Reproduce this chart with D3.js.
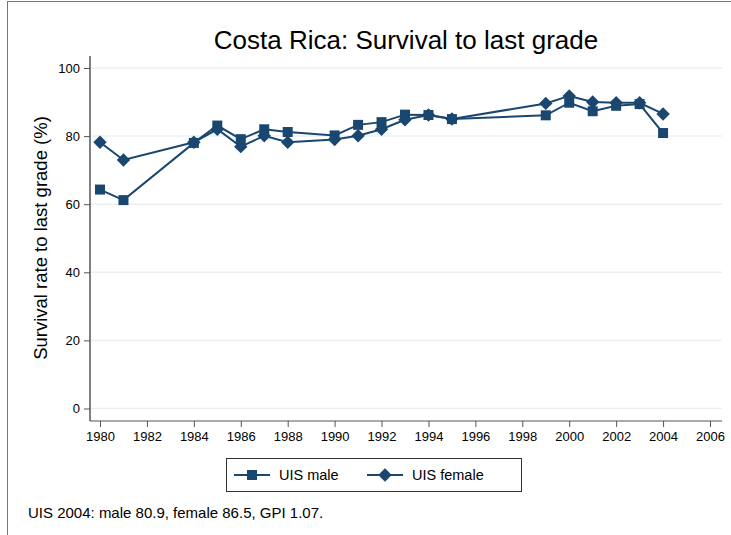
<!DOCTYPE html>
<html>
<head>
<meta charset="utf-8">
<script src="https://cdn.jsdelivr.net/npm/d3@7"></script>
<style>
  body { margin: 0; background: #fff; }
  svg { display: block; font-family: 'Liberation Sans', Arial, sans-serif; }
</style>
</head>
<body>
<div class="chart-container"></div>
<script>
// data
const maleYears = [1980, 1981, 1984, 1985, 1986, 1987, 1988, 1990, 1991, 1992, 1993, 1994, 1995, 1999, 2000, 2001, 2002, 2003, 2004];
const maleValues = [64.3, 61.2, 78, 83.1, 79.1, 82, 81.2, 80.2, 83.3, 84.1, 86.3, 86.2, 85, 86.1, 89.8, 87.3, 88.9, 89.4, 80.9];
const femaleYears = [1980, 1981, 1984, 1985, 1986, 1987, 1988, 1990, 1991, 1992, 1993, 1994, 1995, 1999, 2000, 2001, 2002, 2003, 2004];
const femaleValues = [78.2, 73, 78.2, 82, 76.9, 80.1, 78.2, 79, 80.1, 82, 84.8, 86.2, 85, 89.6, 91.8, 90, 89.8, 89.8, 86.5];
const xTicks = d3.range(1980, 2007, 2);
const yTicks = [0, 20, 40, 60, 80, 100];

const navy = '#1a476f';
const width = 731;
const height = 535;

const svg = d3.select('.chart-container')
    .append('svg')
    .attr('width', width)
    .attr('height', height);

// outer frame (only top and left edges show)
svg.append('rect')
    .attr('x', 7.5)
    .attr('y', 1.5)
    .attr('width', 900)
    .attr('height', 900)
    .attr('fill', 'none')
    .attr('stroke', '#777')
    .attr('stroke-width', 1);

// scales
const x = d3.scaleLinear().domain([1980, 2006]).range([100, 710]);
const y = d3.scaleLinear().domain([0, 100]).range([408.5, 68]);
const plotLeft = 90, plotRight = 722, plotTop = 56, plotBottom = 421;

// gridlines
svg.append('g')
    .selectAll('line')
    .data(yTicks)
    .enter().append('line')
    .attr('x1', plotLeft)
    .attr('x2', plotRight)
    .attr('y1', d => y(d))
    .attr('y2', d => y(d))
    .attr('stroke', '#eaf0f3')
    .attr('stroke-width', 1.5);

// y axis
const yAxis = svg.append('g')
    .attr('transform', `translate(${plotLeft}, 0)`)
    .call(d3.axisLeft(y).tickValues(yTicks).tickSize(6).tickPadding(4));
yAxis.select('.domain').attr('d', `M0,${plotTop}V${plotBottom}`).attr('stroke', '#000');
yAxis.selectAll('.tick line').attr('stroke', '#555');
yAxis.selectAll('text').style('font-size', '13px').attr('fill', '#000');

// x axis
const xAxis = svg.append('g')
    .attr('transform', `translate(0, ${plotBottom})`)
    .call(d3.axisBottom(x).tickValues(xTicks).tickFormat(d3.format('d')).tickSize(6).tickPadding(5));
xAxis.select('.domain').attr('d', `M${plotLeft},0H${plotRight}`).attr('stroke', '#555');
xAxis.selectAll('.tick line').attr('stroke', '#555');
xAxis.selectAll('text').style('font-size', '13px').attr('fill', '#000');

// lines
const male = maleYears.map((yr, i) => ({ year: yr, value: maleValues[i] }));
const female = femaleYears.map((yr, i) => ({ year: yr, value: femaleValues[i] }));

const line = d3.line()
    .x(d => x(d.year))
    .y(d => y(d.value));

[male, female].forEach(series => {
    svg.append('path')
        .datum(series)
        .attr('fill', 'none')
        .attr('stroke', navy)
        .attr('stroke-width', 2)
        .attr('d', line);
});

// markers
const squareSym = d3.symbol().type(d3.symbolSquare).size(100);
const diamondSym = d3.symbol().type(d3.symbolSquare).size(90);

svg.append('g')
    .selectAll('path')
    .data(male)
    .enter().append('path')
    .attr('d', squareSym)
    .attr('transform', d => `translate(${x(d.year)}, ${y(d.value)})`)
    .attr('fill', navy);

svg.append('g')
    .selectAll('path')
    .data(female)
    .enter().append('path')
    .attr('d', diamondSym)
    .attr('transform', d => `translate(${x(d.year)}, ${y(d.value)}) rotate(45)`)
    .attr('fill', navy);

// title
svg.append('text')
    .attr('x', 406)
    .attr('y', 49)
    .attr('text-anchor', 'middle')
    .style('font-size', '26px')
    .text('Costa Rica: Survival to last grade');

// y axis label
svg.append('text')
    .attr('transform', 'rotate(-90)')
    .attr('x', -238)
    .attr('y', 47)
    .attr('text-anchor', 'middle')
    .style('font-size', '18.5px')
    .text('Survival rate to last grade (%)');

// legend
const legend = svg.append('g');
legend.append('rect')
    .attr('x', 226.5)
    .attr('y', 458.5)
    .attr('width', 295)
    .attr('height', 33)
    .attr('fill', '#fff')
    .attr('stroke', '#333');

const legendItems = [
    { label: 'UIS male', x0: 234, sym: squareSym, rot: 0 },
    { label: 'UIS female', x0: 367, sym: diamondSym, rot: 45 }
];
legendItems.forEach(item => {
    legend.append('line')
        .attr('x1', item.x0)
        .attr('x2', item.x0 + 36)
        .attr('y1', 475)
        .attr('y2', 475)
        .attr('stroke', navy)
        .attr('stroke-width', 2);
    legend.append('path')
        .attr('d', item.sym)
        .attr('transform', `translate(${item.x0 + 18}, 475) rotate(${item.rot})`)
        .attr('fill', navy);
    legend.append('text')
        .attr('x', item.x0 + 45)
        .attr('y', 480)
        .style('font-size', '14.5px')
        .text(item.label);
});

// note
svg.append('text')
    .attr('x', 28)
    .attr('y', 518)
    .style('font-size', '15px')
    .text('UIS 2004: male 80.9, female 86.5, GPI 1.07.');
</script>
</body>
</html>
